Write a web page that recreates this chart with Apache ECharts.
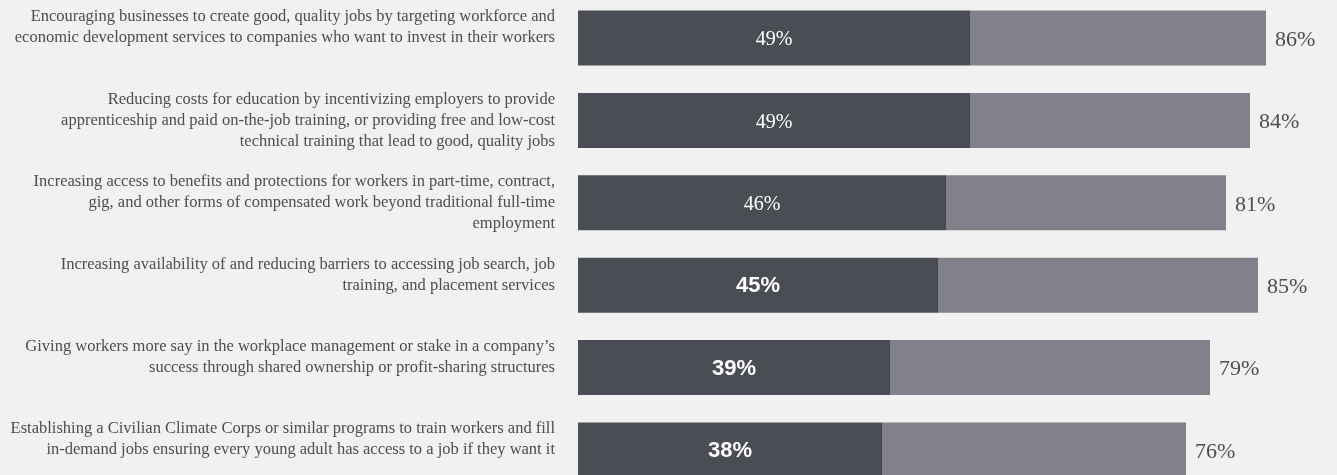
<!DOCTYPE html>
<html>
<head>
<meta charset="utf-8">
<script src="https://cdn.jsdelivr.net/npm/echarts@6/dist/echarts.min.js"></script>
<style>
  html, body { margin: 0; padding: 0; background: #f1f1f1; }
  #chart { width: 1337px; height: 475px; }
</style>
</head>
<body>
<div id="chart"></div>
<script>
// Policy options, in display order (top to bottom)
const categories = [
  'Encouraging businesses to create good, quality jobs by targeting workforce and\neconomic development services to companies who want to invest in their workers',
  'Reducing costs for education by incentivizing employers to provide\napprenticeship and paid on-the-job training, or providing free and low-cost\ntechnical training that lead to good, quality jobs',
  'Increasing access to benefits and protections for workers in part-time, contract,\ngig, and other forms of compensated work beyond traditional full-time\nemployment',
  'Increasing availability of and reducing barriers to accessing job search, job\ntraining, and placement services',
  'Giving workers more say in the workplace management or stake in a company\u2019s\nsuccess through shared ownership or profit-sharing structures',
  'Establishing a Civilian Climate Corps or similar programs to train workers and fill\nin-demand jobs ensuring every young adult has access to a job if they want it'
];

// Strong support (dark segment) and total support (end of the light segment), in %
const strongSupport = [49, 49, 46, 45, 39, 38];
const totalSupport = [86, 84, 81, 85, 79, 76];

const DARK = '#4b4d55';
const LIGHT = '#80818b';
const TEXT = '#4d4d52';
const SERIF = '"Liberation Serif", "DejaVu Serif", serif';
const SANS = '"Liberation Sans", Arial, sans-serif';

// The first rows carry serif labels, the rest bold sans
const SERIF_LABEL_ROWS = 3;

const chart = echarts.init(document.getElementById('chart'), null, { renderer: 'canvas' });

const strongData = strongSupport.map((v, i) => ({
  value: v,
  label: i < SERIF_LABEL_ROWS
    ? { fontFamily: SERIF, fontSize: 20, fontWeight: 'normal', offset: [0, 2] }
    : { fontFamily: SANS, fontSize: 22, fontWeight: 'bold', offset: [0, 1] }
}));

const restData = totalSupport.map((t, i) => t - strongSupport[i]);

chart.setOption({
  backgroundColor: '#f1f1f1',
  animation: false,
  // Category ticks run from the first bar centre to the last one
  grid: { left: 578, right: 39, top: 38, bottom: 25, containLabel: false, outerBoundsMode: 'none' },
  xAxis: {
    type: 'value',
    min: 0,
    max: 90,
    show: false
  },
  yAxis: {
    type: 'category',
    inverse: true,
    boundaryGap: false,
    data: categories,
    axisLine: { show: false },
    axisTick: { show: false },
    splitLine: { show: false },
    axisLabel: {
      margin: 23,
      fontFamily: SERIF,
      fontSize: 16.5,
      lineHeight: 21,
      color: TEXT,
      align: 'right',
      verticalAlign: 'middle',
      padding: [4, 0, 0, 0],
      // Keep every label block three lines tall so the text sits from the bar's top edge
      formatter: (s) => {
        const n = s.split('\n').length;
        return s + '\n'.repeat(Math.max(0, 3 - n));
      }
    }
  },
  series: [
    {
      name: 'Strongly support',
      type: 'bar',
      stack: 'support',
      barWidth: 55,
      clip: false,
      itemStyle: { color: DARK },
      label: {
        show: true,
        position: 'inside',
        color: '#ffffff',
        formatter: (p) => p.value + '%'
      },
      data: strongData
    },
    {
      name: 'Total support',
      type: 'bar',
      stack: 'support',
      barWidth: 55,
      clip: false,
      itemStyle: { color: LIGHT },
      label: {
        show: true,
        position: 'right',
        distance: 9,
        offset: [0, 2],
        fontFamily: SERIF,
        fontSize: 22,
        color: TEXT,
        formatter: (p) => totalSupport[p.dataIndex] + '%'
      },
      data: restData
    }
  ]
});
</script>
</body>
</html>
